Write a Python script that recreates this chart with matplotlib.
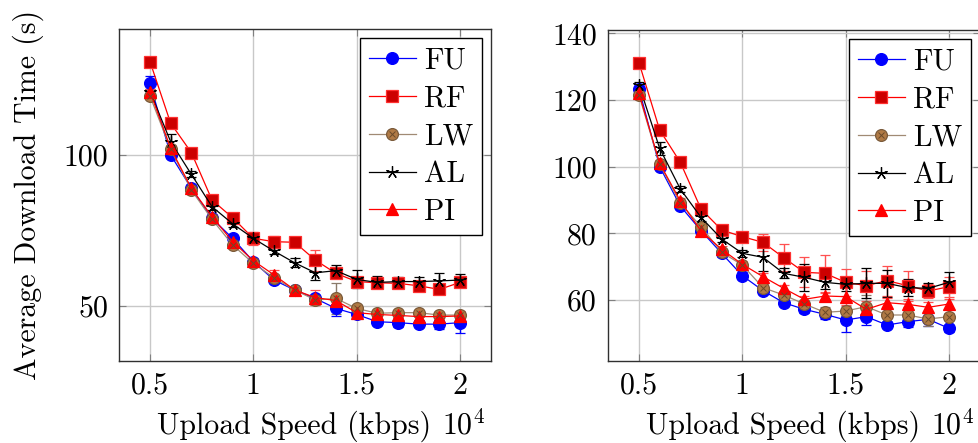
import numpy as np
import matplotlib
matplotlib.use("Agg")
import matplotlib.pyplot as plt
from matplotlib.lines import Line2D

plt.rcParams['font.family'] = 'serif'
plt.rcParams['font.serif'] = ['cmr10', 'DejaVu Serif']
plt.rcParams['mathtext.fontset'] = 'cm'
plt.rcParams['axes.formatter.use_mathtext'] = True

# velocidad de subida (kbps)
upload = [5000, 6000, 7000, 8000, 9000, 10000, 11000, 12000, 13000, 14000,
          15000, 16000, 17000, 18000, 19000, 20000]

names = ['FU', 'RF', 'LW', 'AL', 'PI']

# grafico izquierdo
fu_a = [123.7, 100.0, 89.0, 79.0, 72.4, 64.7, 58.6, 55.3, 52.5, 49.2, 47.2, 44.8, 44.5, 44.0, 44.0, 44.5]
rf_a = [130.9, 110.5, 100.8, 85.1, 79.2, 72.4, 71.3, 71.1, 65.2, 60.8, 58.1, 57.7, 57.5, 56.7, 55.5, 57.8]
lw_a = [119.5, 101.9, 88.4, 78.7, 70.2, 64.1, 59.4, 55.3, 52.0, 52.5, 49.2, 47.6, 47.8, 47.8, 47.0, 47.0]
al_a = [121.0, 104.4, 93.6, 82.9, 77.2, 72.4, 68.2, 64.3, 61.0, 61.7, 58.8, 57.8, 58.1, 58.1, 58.3, 58.6]
pi_a = [121.0, 102.2, 89.0, 79.6, 71.3, 65.0, 60.3, 55.3, 52.8, 51.8, 47.8, 47.2, 46.9, 46.5, 46.5, 46.7]

fu_a_err = [2.5, 1, 1, 1, 1, 1, 1, 1, 1, 2.5, 1, 1, 1.5, 1, 1.5, 3.5]
rf_a_err = [1, 1, 1, 1, 1, 2.2, 2, 1.5, 3.5, 1, 1, 1.5, 1, 1.5, 1.5, 1]
lw_a_err = [1, 1, 1, 1, 1, 1, 1, 1, 1.5, 5, 1, 1, 1, 1, 1, 1]
al_a_err = [1, 2.5, 1, 1, 1, 1, 1, 1.5, 2.5, 2, 3, 2, 1.5, 1.5, 2.5, 2]
pi_a_err = [1, 1, 1, 1, 1, 1, 1.5, 1, 2.5, 1, 1, 1, 1, 1, 1, 1.5]

# grafico derecho
fu_b = [123.3, 100.0, 88.2, 80.8, 74.0, 67.3, 62.8, 59.2, 57.2, 55.7, 54.0, 55.0, 52.5, 53.5, 54.2, 51.5]
rf_b = [131.2, 111.0, 101.3, 87.3, 81.0, 79.0, 77.3, 72.7, 68.3, 68.0, 65.3, 64.3, 65.8, 64.3, 62.7, 64.0]
lw_b = [121.5, 100.7, 89.0, 82.0, 74.3, 70.5, 63.7, 61.5, 58.8, 56.3, 56.7, 58.0, 55.5, 55.5, 54.3, 55.0]
al_b = [124.5, 105.5, 93.3, 84.8, 78.3, 74.0, 72.8, 68.0, 66.8, 65.3, 64.7, 65.0, 65.0, 63.7, 63.5, 65.3]
pi_b = [122.0, 101.0, 89.7, 80.7, 75.2, 70.7, 67.0, 63.5, 60.2, 61.2, 61.0, 57.2, 59.2, 58.7, 57.8, 58.8]

fu_b_err = [1, 1, 1, 1, 1, 1, 1, 1, 1, 1.5, 3.5, 2.5, 1, 1.5, 2, 1]
rf_b_err = [1, 1, 1.5, 1, 1, 1.5, 2.5, 4, 4.5, 5.5, 4, 4.5, 4.5, 4.5, 2, 3]
lw_b_err = [1, 1, 1, 1, 1, 1, 1, 1, 1, 1.5, 1.5, 3.5, 2, 2.5, 2, 1]
al_b_err = [1, 2, 1, 1, 1, 1, 4, 1.5, 4, 2, 2, 4.5, 4, 2.5, 1.5, 3]
pi_b_err = [1, 1, 1, 1, 1, 1, 1, 1, 1, 1, 2.5, 1.5, 1.5, 1.5, 1.5, 1.5]

#estilos de cada serie (linea, marcador, relleno, borde, barras de error)
estrella = (5, 2, 0)
estilos = {
    'FU': dict(color='#0000ff', marker='o', mfc='#0000ff', mec='#0000ff', ms=8.5, ecolor='#0000ff'),
    'RF': dict(color='#ff0000', marker='s', mfc='#cc0000', mec='#ff3030', ms=8.5, ecolor='#ff5050'),
    'LW': dict(color='#a08a74', marker='o', mfc='#b07a45', mec='#7a5a3a', ms=8.5, ecolor='#8a7a6a'),
    'AL': dict(color='#000000', marker=estrella, mfc='#000000', mec='#000000', ms=9, ecolor='#000000'),
    'PI': dict(color='#ff0000', marker='^', mfc='#ff0000', mec='#ff0000', ms=8.5, ecolor='#ff5050'),
}

FS = 21.5

fig = plt.figure(figsize=(9.79, 4.43), dpi=100)
W, H = 979.0, 443.0
ax1 = fig.add_axes([119 / W, (H - 361) / H, 372 / W, 332 / H])
ax2 = fig.add_axes([608 / W, (H - 361) / H, 372 / W, 331 / H])


def manija(nombre):
    st = estilos[nombre]
    lin = Line2D([], [], color=st['color'], lw=0.9, marker=st['marker'], mfc=st['mfc'],
                 mec=st['mec'], ms=st['ms'], mew=0.9)
    if nombre == 'LW':
        cruz = Line2D([], [], ls='none', marker='x', color='#6a4a2a', ms=5, mew=0.7)
        return (lin, cruz)
    return lin


def dibujar(ax, series, errores, ylim, yticks):
    for nombre, y, e in zip(names, series, errores):
        st = estilos[nombre]
        ax.errorbar(upload, y, yerr=e, color=st['color'], lw=0.9, marker=st['marker'],
                    mfc=st['mfc'], mec=st['mec'], ms=st['ms'], mew=0.9,
                    ecolor=st['ecolor'], elinewidth=1.0, capsize=3.8, capthick=1.0,
                    zorder=3)
        if nombre == 'LW':
            # la cruz dentro del circulo
            ax.plot(upload, y, 'x', color='#6a4a2a', ms=5, mew=0.7, zorder=4)
    ax.set_xlim(3500, 21500)
    ax.set_ylim(*ylim)
    ax.set_xticks([5000, 10000, 15000, 20000])
    ax.set_xticklabels(['0.5', '1', '1.5', '2'])
    ax.set_yticks(yticks)
    ax.set_yticklabels([str(v) for v in yticks])
    ax.grid(True, color='#c8c8c8', lw=1.0, zorder=0)
    ax.tick_params(direction='in', length=5, color='#808080', labelsize=FS,
                   top=True, right=True, pad=8)
    for s in ax.spines.values():
        s.set_color('#303030')
        s.set_linewidth(1.0)
    ax.set_xlabel('Upload Speed (kbps)', fontsize=FS)
    ax.xaxis.set_label_coords(0.47, -0.22)
    ax.xaxis.label.set_va('baseline')
    ax.text(0.868, -0.22, r'$10^4$', transform=ax.transAxes, fontsize=FS,
            ha='left', va='baseline')
    leg = ax.legend([manija(n) for n in names], names, loc='upper right', fontsize=FS,
                    frameon=True, fancybox=False, edgecolor='black', framealpha=1,
                    borderpad=0.3, labelspacing=0.35, handlelength=1.6,
                    handletextpad=0.25, borderaxespad=0.3)
    leg.get_frame().set_linewidth(1.0)


dibujar(ax1, [fu_a, rf_a, lw_a, al_a, pi_a],
        [fu_a_err, rf_a_err, lw_a_err, al_a_err, pi_a_err],
        (31.8, 141.7), [50, 100])
dibujar(ax2, [fu_b, rf_b, lw_b, al_b, pi_b],
        [fu_b_err, rf_b_err, lw_b_err, al_b_err, pi_b_err],
        (41.7, 141.0), [60, 80, 100, 120, 140])

ax1.set_ylabel('Average Download Time (s)', fontsize=FS, labelpad=14)

plt.savefig('out.png', dpi=100)
